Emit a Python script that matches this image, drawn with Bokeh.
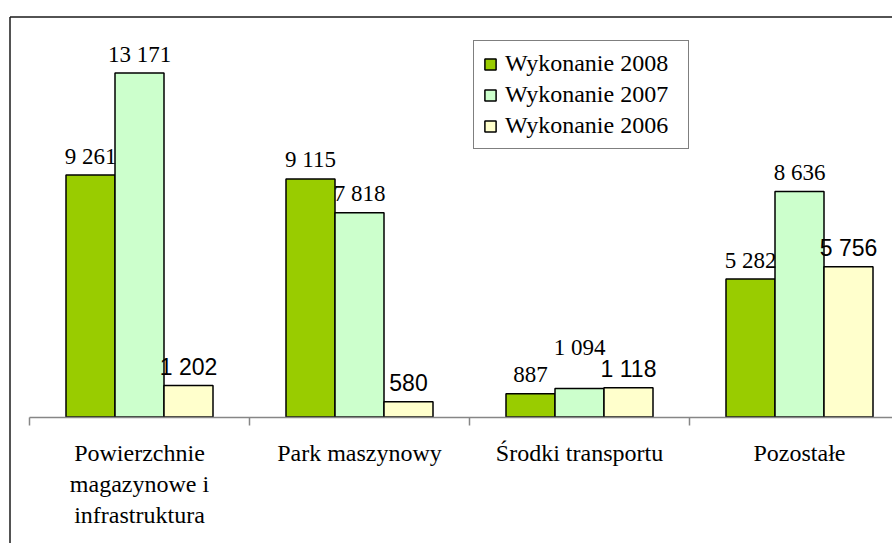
from bokeh.plotting import figure
from bokeh.models import Range1d, LinearAxis, FixedTicker, ColumnDataSource
from bokeh.transform import dodge
from bokeh.core.properties import value
from bokeh.embed import file_html
from bokeh.resources import INLINE

# ---- data ----
categories = ["Powierzchnie\nmagazynowe i\ninfrastruktura", "Park maszynowy",
              "Środki transportu", "Pozostałe"]
series_names = ["Wykonanie 2008", "Wykonanie 2007", "Wykonanie 2006"]
v2008 = [9261, 9115, 887, 5282]
v2007 = [13171, 7818, 1094, 8636]
v2006 = [1202, 580, 1118, 5756]

# ---- styling / layout ----
colors = ["#99CC00", "#CCFFCC", "#FFFFCC"]
label_fonts = ["Liberation Serif", "Liberation Serif", "Liberation Sans"]
W, H = 892, 543
PX_PER_CAT = 220.0
AXIS_LEFT = 29.0          # px where the category axis begins
ZERO_Y = 416.5            # px of the value zero line
PX_PER_UNIT = 344.0 / 13171.0
BAR_W = 49.0 / PX_PER_CAT

x_start = -0.5 - AXIS_LEFT / PX_PER_CAT
x_end = x_start + W / PX_PER_CAT
y_top = ZERO_Y / PX_PER_UNIT
y_bottom = -(H - ZERO_Y) / PX_PER_UNIT

def fmt(v):
    return f"{v:,}".replace(",", " ")

series = [v2008, v2007, v2006]
data = dict(x=list(range(len(categories))))
for j, s in enumerate(series):
    data[f"v{j}"] = s
    data[f"t{j}"] = [fmt(v) for v in s]
    data[f"dy{j}"] = [-19] * len(s)
# the 2007 label of the third group is lifted to avoid its neighbours
data["dy1"][2] = -41
src = ColumnDataSource(data)

p = figure(width=W, height=H, x_range=Range1d(x_start, x_end),
           y_range=Range1d(y_bottom, y_top), output_backend="svg",
           toolbar_location=None, x_axis_location=None, y_axis_location=None,
           min_border=0, outline_line_color=None)
p.xgrid.visible = False
p.ygrid.visible = False
p.background_fill_color = "white"

# chart-area border (only left and top are visible in the picture)
bx = x_start + 9.5 / PX_PER_CAT
by = y_top - 16.5 / PX_PER_UNIT
p.segment(x0=[bx, bx], y0=[y_bottom, by], x1=[bx, x_end], y1=[by, by],
          line_color="#1a1a1a", line_width=1.5)

offsets = [-BAR_W, 0.0, BAR_W]
for j in range(3):
    p.vbar(x=dodge("x", offsets[j]), top=f"v{j}", bottom=0, width=BAR_W, source=src,
           fill_color=colors[j], line_color="black", line_width=1.5,
           legend_label=series_names[j])
for j in range(3):
    p.text(x=dodge("x", offsets[j]), y=f"v{j}", text=f"t{j}", source=src,
           text_align="center", text_baseline="alphabetic", y_offset=f"dy{j}",
           text_font=value(label_fonts[j]), text_font_size="23px", text_color="black")

# category axis at value zero
ax = LinearAxis(fixed_location=0,
                ticker=FixedTicker(ticks=list(range(len(categories))),
                                   minor_ticks=[i - 0.5 for i in range(len(categories) + 1)]),
                bounds=(-0.5, len(categories) - 0.5))
ax.major_label_overrides = {i: c for i, c in enumerate(categories)}
ax.axis_line_color = "#868686"
ax.axis_line_width = 1.5
ax.major_tick_line_color = None
ax.major_tick_in = 0
ax.major_tick_out = 8
ax.minor_tick_in = 0
ax.minor_tick_out = 8
ax.minor_tick_line_color = "#868686"
ax.minor_tick_line_width = 1.5
ax.major_label_standoff = 15
ax.major_label_text_font = "Liberation Serif"
ax.major_label_text_font_size = "24px"
ax.major_label_text_color = "black"
ax.major_label_text_line_height = 1.2
p.add_layout(ax, "below")

lg = p.legend[0]
lg.location = (473, 394)
lg.border_line_color = "black"
lg.border_line_width = 1
lg.background_fill_color = "white"
lg.background_fill_alpha = 1
lg.label_text_font = "Liberation Serif"
lg.label_text_font_size = "24px"
lg.label_text_color = "black"
lg.glyph_width = 14
lg.glyph_height = 14
lg.label_height = 20
lg.label_width = 174
lg.spacing = 4
lg.padding = 9
lg.margin = 0
lg.label_standoff = 8

open("out.html", "w").write(file_html(p, INLINE))
